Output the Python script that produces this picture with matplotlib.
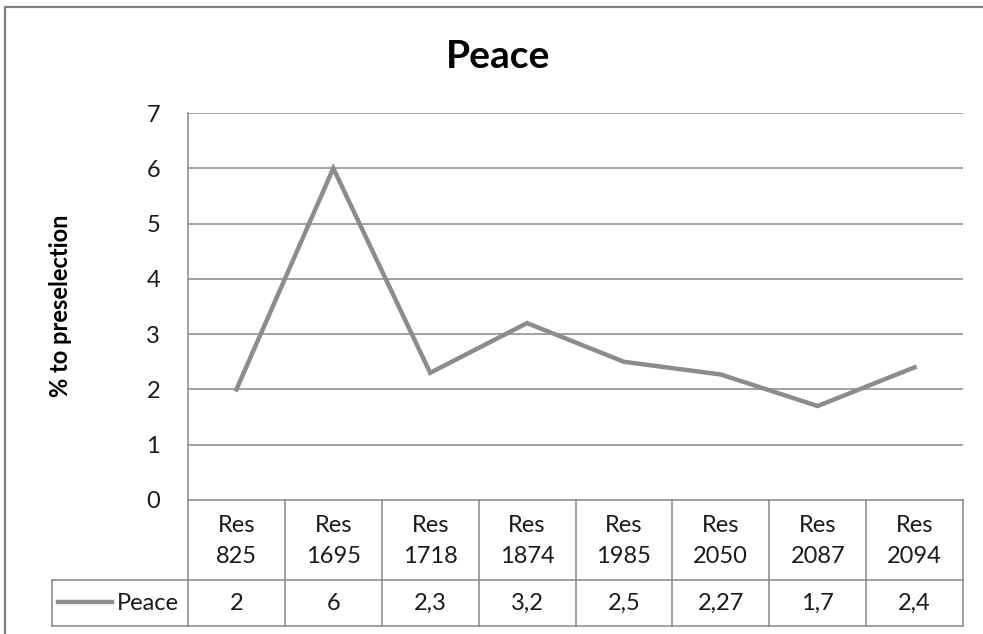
import matplotlib
matplotlib.use('Agg')
import matplotlib.pyplot as plt
from matplotlib.patches import Rectangle

plt.rcParams['font.family'] = ['Lato', 'DejaVu Sans']

# data
categories = ['Res\n825', 'Res\n1695', 'Res\n1718', 'Res\n1874',
              'Res\n1985', 'Res\n2050', 'Res\n2087', 'Res\n2094']
values = [2, 6, 2.3, 3.2, 2.5, 2.27, 1.7, 2.4]
value_labels = ['2', '6', '2,3', '3,2', '2,5', '2,27', '1,7', '2,4']
series_name = 'Peace'
yticks = [0, 1, 2, 3, 4, 5, 6, 7]

W, H = 983, 634
line_col = '#8c8c8c'
grid_col = '#878787'
text_col = '#1a1a1a'
fs = 17

fig = plt.figure(figsize=(W/100, H/100), dpi=100)

def fbox(x0, y0, x1, y1):
    # pixel box -> figure fraction [left, bottom, width, height]
    return [x0/W, 1 - y1/H, (x1-x0)/W, (y1-y0)/H]

# outer chart border (cropped at right/bottom)
fig.patches.append(Rectangle((5/W, -0.1), 1.2, 1 - 7/H + 0.1,
                             transform=fig.transFigure, fill=False,
                             edgecolor='#7f7f7f', linewidth=1.6))

n = len(categories)
xs = [i + 0.5 for i in range(n)]

ax = fig.add_axes(fbox(188, 113, 963, 500))
ax.set_xlim(0, n)
ax.set_ylim(0, 7)
for y in yticks[1:]:
    ax.axhline(y, color=grid_col, lw=1.1, zorder=1)
ax.plot(xs, values, color=line_col, lw=3.2, solid_joinstyle='miter', zorder=3)
ax.set_yticks(yticks)
ax.set_xticks([])
ax.tick_params(axis='y', length=0, pad=20, labelsize=fs, labelcolor=text_col)
for s in ['top', 'right', 'bottom']:
    ax.spines[s].set_visible(False)
ax.spines['left'].set_color(grid_col)
ax.spines['left'].set_linewidth(1.1)

# data table below the plot
colw = (963 - 188) / n
leg_units = (188 - 52) / colw
tab = fig.add_axes(fbox(52, 500, 963, 626))
tab.set_xlim(-leg_units, n)
tab.set_ylim(0, 126)
tab.axis('off')
split = 126 - 80  # data row height from bottom
kw = dict(color=grid_col, lw=1.1, clip_on=False)
tab.plot([0, n], [126, 126], **kw)
tab.plot([-leg_units, n], [split, split], **kw)
tab.plot([-leg_units, n], [0, 0], **kw)
tab.plot([-leg_units, -leg_units], [0, split], **kw)
for i in range(n + 1):
    tab.plot([i, i], [0, 126], **kw)
for x, c, v in zip(xs, categories, value_labels):
    tab.text(x, split + 39, c, ha='center', va='center', fontsize=fs,
             color=text_col, linespacing=1.62)
    tab.text(x, split / 2, v, ha='center', va='center', fontsize=fs,
             color=text_col)
# legend key in the table
lx0 = -leg_units + (58 - 52) / colw
lx1 = -leg_units + (112 - 52) / colw
tab.plot([lx0, lx1], [split / 2 + 1, split / 2 + 1], color=line_col, lw=3.2,
         clip_on=False)
tab.text(-leg_units + (117 - 52) / colw, split / 2, series_name, ha='left',
         va='center', fontsize=fs, color=text_col)

fig.text(498/W, 1 - 57/H, 'Peace', ha='center', va='center', fontsize=28,
         fontweight='bold', color='black')
fig.text(60/W, 1 - 306/H, '% to preselection', ha='center', va='center',
         rotation=90, fontsize=17, fontweight='bold', color='black')

fig.savefig('out.png', dpi=100)
